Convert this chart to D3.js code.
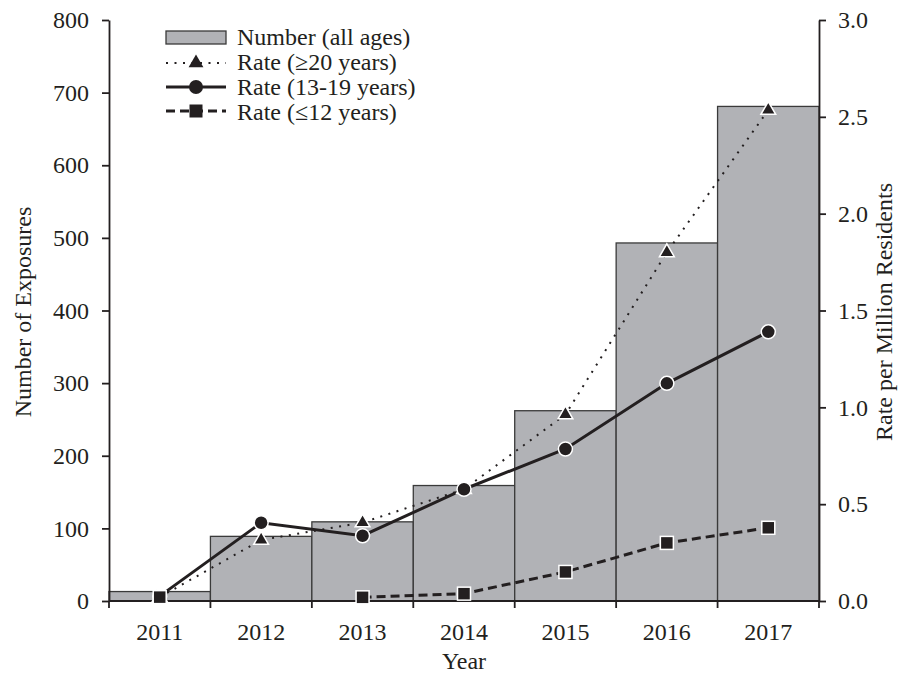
<!DOCTYPE html>
<html>
<head>
<meta charset="utf-8">
<script src="https://cdn.jsdelivr.net/npm/d3@7"></script>
<style>
  body { margin: 0; background: #fff; }
  text { font-family: "Liberation Serif", "Times New Roman", serif; fill: #231f20; }
  .axis text { font-size: 24px; }
  .axis path, .axis line { stroke: #231f20; stroke-width: 1.8; }
</style>
</head>
<body>
<div id="chart"></div>
<script>
// data
const years = ["2011", "2012", "2013", "2014", "2015", "2016", "2017"];
const exposures = [13, 89, 109, 159, 262, 493, 681];
const rateAdult = [0.02, 0.315, 0.405, 0.577, 0.963, 1.80, 2.535];   // >=20 years
const rateTeen = [0.025, 0.404, 0.337, 0.577, 0.785, 1.124, 1.39];   // 13-19 years
const rateChild = [0.02, null, 0.019, 0.038, 0.15, 0.30, 0.378];     // <=12 years
const leftTicks = [0, 100, 200, 300, 400, 500, 600, 700, 800];
const rightTicks = [0, 0.5, 1, 1.5, 2, 2.5, 3];

let draw = function(){
    const width = 902, height = 678;
    const margin = {top: 20, right: 83, bottom: 77, left: 109};

    var svg = d3.select("#chart").append("svg").attr("width", width).attr("height", height);

    var xScale = d3.scaleBand().domain(years).range([margin.left, width - margin.right]).padding(0);
    var yLeft = d3.scaleLinear().domain([0, 800]).range([height - margin.bottom, margin.top]);
    var yRight = d3.scaleLinear().domain([0, 3]).range([height - margin.bottom, margin.top]);
    var cx = d => xScale(d) + xScale.bandwidth() / 2;

    // bars
    svg.append("g").selectAll("rect").data(years).enter().append("rect")
        .attr("x", d => xScale(d))
        .attr("y", (d, i) => yLeft(exposures[i]))
        .attr("width", xScale.bandwidth())
        .attr("height", (d, i) => yLeft(0) - yLeft(exposures[i]))
        .attr("fill", "#b1b2b6")
        .attr("stroke", "#3a3a3a")
        .attr("stroke-width", 1.3);

    // axes
    var xAxis = d3.axisBottom(xScale).tickSize(0).tickPadding(22);
    var gx = svg.append("g").attr("class", "axis").attr("transform", "translate(0," + yLeft(0) + ")").call(xAxis);
    gx.select(".domain").remove();
    svg.append("line").attr("x1", margin.left).attr("x2", width - margin.right)
        .attr("y1", yLeft(0)).attr("y2", yLeft(0)).attr("stroke", "#231f20").attr("stroke-width", 1.8);
    svg.append("g").selectAll("line").data(years.concat(["end"])).enter().append("line")
        .attr("x1", d => d == "end" ? width - margin.right : xScale(d))
        .attr("x2", d => d == "end" ? width - margin.right : xScale(d))
        .attr("y1", yLeft(0)).attr("y2", yLeft(0) + 7)
        .attr("stroke", "#231f20").attr("stroke-width", 1.8);

    var yAxisL = d3.axisLeft(yLeft).tickValues(leftTicks).tickSize(7).tickSizeOuter(0).tickPadding(13);
    svg.append("g").attr("class", "axis").attr("transform", "translate(" + margin.left + ",0)").call(yAxisL);
    var yAxisR = d3.axisRight(yRight).tickValues(rightTicks).tickFormat(d3.format(".1f")).tickSize(7).tickSizeOuter(0).tickPadding(12);
    svg.append("g").attr("class", "axis").attr("transform", "translate(" + (width - margin.right) + ",0)").call(yAxisR);
    svg.selectAll(".axis text").attr("fill", "#231f20");

    // lines
    var mkLine = vals => d3.line().defined((d, i) => vals[i] != null)
        .x(d => cx(d)).y((d, i) => yRight(vals[i]))(years);
    svg.append("path").attr("d", mkLine(rateAdult)).attr("fill", "none")
        .attr("stroke", "#231f20").attr("stroke-width", 2).attr("stroke-dasharray", "2,6.5");
    svg.append("path").attr("d", mkLine(rateTeen)).attr("fill", "none")
        .attr("stroke", "#231f20").attr("stroke-width", 3);
    svg.append("path").attr("d", mkLine(rateChild)).attr("fill", "none")
        .attr("stroke", "#231f20").attr("stroke-width", 3).attr("stroke-dasharray", "9,5");

    // markers
    var tri = d3.symbol().type(d3.symbolTriangle).size(95);
    svg.append("g").selectAll("path").data(years).enter().append("path")
        .attr("d", tri)
        .attr("transform", (d, i) => "translate(" + cx(d) + "," + yRight(rateAdult[i]) + ")")
        .attr("fill", "#231f20").attr("stroke", "#fff").attr("stroke-width", 1.5);
    svg.append("g").selectAll("circle").data(years).enter().append("circle")
        .attr("cx", d => cx(d)).attr("cy", (d, i) => yRight(rateTeen[i])).attr("r", 7)
        .attr("fill", "#231f20").attr("stroke", "#fff").attr("stroke-width", 1.5);
    svg.append("g").selectAll("rect").data(years.filter((d, i) => rateChild[i] != null)).enter().append("rect")
        .attr("x", d => cx(d) - 6.5).attr("y", d => yRight(rateChild[years.indexOf(d)]) - 6.5)
        .attr("width", 13).attr("height", 13)
        .attr("fill", "#231f20").attr("stroke", "#fff").attr("stroke-width", 1.5);

    // legend
    var lx = 166, lw = 60;
    var leg = svg.append("g");
    leg.append("rect").attr("x", lx).attr("y", 31).attr("width", lw).attr("height", 13)
        .attr("fill", "#b1b2b6").attr("stroke", "#3a3a3a").attr("stroke-width", 1.3);
    leg.append("line").attr("x1", lx).attr("x2", lx + lw).attr("y1", 63).attr("y2", 63)
        .attr("stroke", "#231f20").attr("stroke-width", 2).attr("stroke-dasharray", "2,6.5");
    leg.append("path").attr("d", tri).attr("transform", "translate(" + (lx + lw / 2) + ",63)").attr("fill", "#231f20");
    leg.append("line").attr("x1", lx).attr("x2", lx + lw).attr("y1", 87).attr("y2", 87)
        .attr("stroke", "#231f20").attr("stroke-width", 3);
    leg.append("circle").attr("cx", lx + lw / 2).attr("cy", 87).attr("r", 7).attr("fill", "#231f20");
    leg.append("line").attr("x1", lx).attr("x2", lx + lw).attr("y1", 111).attr("y2", 111)
        .attr("stroke", "#231f20").attr("stroke-width", 3).attr("stroke-dasharray", "9,5");
    leg.append("rect").attr("x", lx + lw / 2 - 6.5).attr("y", 104.5).attr("width", 13).attr("height", 13).attr("fill", "#231f20");
    var labels = ["Number (all ages)", "Rate (\u226520 years)", "Rate (13-19 years)", "Rate (\u226412 years)"];
    leg.selectAll("text").data(labels).enter().append("text")
        .attr("x", 237).attr("y", (d, i) => 37 + i * 24.7).attr("dy", "0.35em")
        .style("font-size", "24px").text(d => d);

    // axis titles
    svg.append("text").attr("x", (margin.left + width - margin.right) / 2).attr("y", 669)
        .attr("text-anchor", "middle").style("font-size", "24px").text("Year");
    svg.append("text").attr("transform", "translate(31," + 312 + ") rotate(-90)")
        .attr("text-anchor", "middle").style("font-size", "24px").text("Number of Exposures");
    svg.append("text").attr("transform", "translate(892," + 312 + ") rotate(-90)")
        .attr("text-anchor", "middle").style("font-size", "24px").text("Rate per Million Residents");
}
draw();
</script>
</body>
</html>
